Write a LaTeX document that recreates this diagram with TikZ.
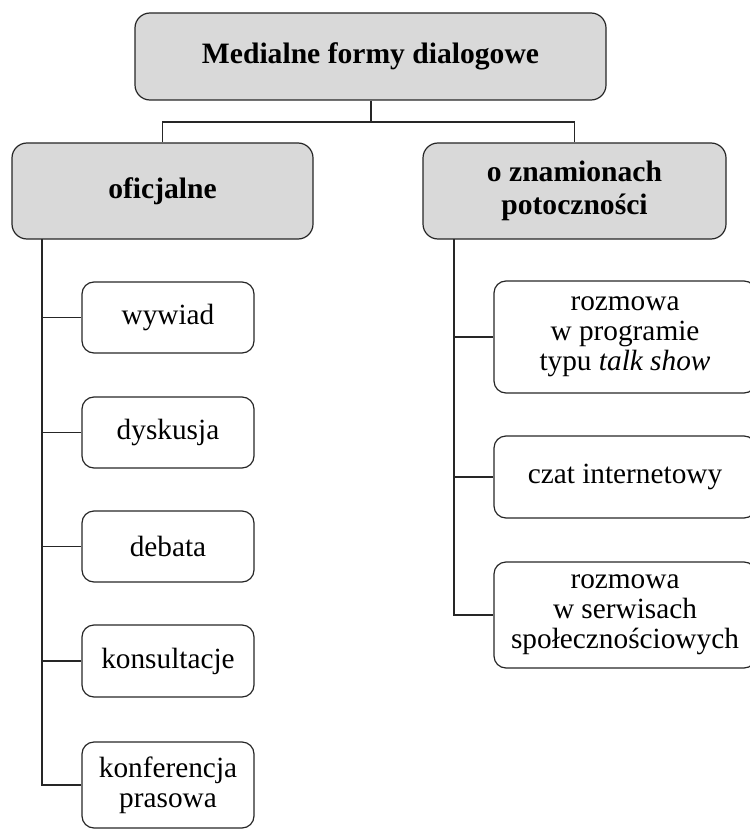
\documentclass[tikz,border=0pt]{standalone}
\usepackage{fontspec}
\setmainfont{Liberation Serif}
\definecolor{boxgray}{HTML}{D9D9D9}
\newcommand{\boxtextsize}{\fontsize{29.3}{30}\selectfont}
\newcommand{\headtextsize}{\fontsize{29.6}{32.5}\selectfont}
\tikzset{
  link/.style={line width=1.2pt, draw=black!85},
  catbox/.style={draw=black!85, line width=1.2pt, fill=boxgray, rounded corners=15pt,
    inner sep=0pt, align=center, font=\headtextsize\bfseries},
  itembox/.style={draw=black!85, line width=1.2pt, rounded corners=12pt,
    inner sep=0pt, align=center, font=\boxtextsize},
}
\begin{document}
\begin{tikzpicture}[x=1pt, y=-1pt]
\useasboundingbox (0,0) rectangle (749,829);

% main heading and the two categories
\node[catbox, minimum width=471pt, minimum height=87pt] (top) at (370.5,56.5) {Medialne formy dialogowe};
\node[catbox, minimum width=301pt, minimum height=96pt] (off) at (162.5,191) {oficjalne};
\node[catbox, minimum width=303pt, minimum height=96pt] (pot) at (574.5,191) {o znamionach\\potoczności};

% official forms
\node[itembox, minimum width=172pt, minimum height=71pt] (wyw) at (168,317.5) {wywiad};
\node[itembox, minimum width=172pt, minimum height=71pt] (dys) at (168,432.5) {dyskusja};
\node[itembox, minimum width=172pt, minimum height=71pt] (deb) at (168,546.5) {debata};
\node[itembox, minimum width=172pt, minimum height=72pt] (kons) at (168,661) {konsultacje};
\node[itembox, minimum width=172pt, minimum height=86pt] (konf) at (168,785) {konferencja\\prasowa};

% colloquial forms
\node[itembox, minimum width=262pt, minimum height=112pt] (talk) at (625,337) {rozmowa\\w programie\\typu \textit{talk show}};
\node[itembox, minimum width=262pt, minimum height=82pt] (czat) at (625,477) {czat internetowy};
\node[itembox, minimum width=262pt, minimum height=106pt] (serw) at (625,615) {rozmowa\\w serwisach\\społecznościowych};

% top-level fork
\coordinate (fork) at (371,122);
\draw[link] (top.south -| fork) -- (fork);
\draw[link] (off.north) -- (off.north |- fork) -- (pot.north |- fork) -- (pot.north);

% left spine
\coordinate (ls) at (42,239);
\draw[link] (ls) |- (konf.west);
\foreach \n in {wyw,dys,deb,kons}
  \draw[link] (ls |- \n.west) -- (\n.west);

% right spine
\coordinate (rs) at (454,239);
\draw[link] (rs) |- (serw.west);
\foreach \n in {talk,czat}
  \draw[link] (rs |- \n.west) -- (\n.west);
\end{tikzpicture}
\end{document}
